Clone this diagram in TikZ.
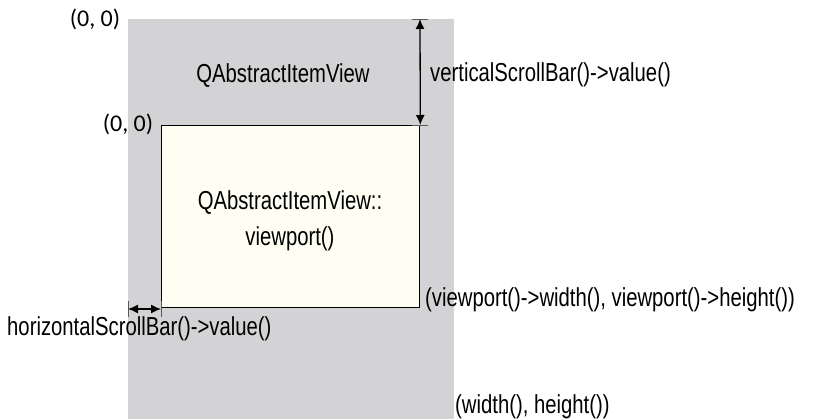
\documentclass[tikz,border=0pt]{standalone}
\usepackage{fontspec}
\setmainfont{Liberation Sans}[FakeStretch=0.78]
\newfontfamily\calfont{Carlito}[Numbers=Lining]
\usetikzlibrary{arrows.meta}
\definecolor{areagray}{HTML}{D3D3D5}
\definecolor{vpfill}{HTML}{FFFEF2}
\tikzset{
  lbl/.style={font=\fontsize{26}{30}\selectfont, inner sep=0pt},
  clbl/.style={font=\calfont\fontsize{24}{28}\selectfont, inner sep=0pt},
  dim/.style={line width=1.3pt, {Latex[length=10pt,width=9pt]}-{Latex[length=10pt,width=9pt]}},
  tick/.style={line width=0.9pt, draw=gray!70!black},
}
\begin{document}
\begin{tikzpicture}[x=1pt,y=-1pt]
\useasboundingbox (0,0) rectangle (817,419);
\fill[areagray] (128,19) rectangle (454,419);
\node[draw=black, line width=1.3pt, fill=vpfill, minimum width=258pt, minimum height=182pt, anchor=north west, inner sep=0pt] (vp) at (161,125) {};
\coordinate (topR) at (420,19);
\coordinate (vpTR) at (vp.north east);
\draw[tick] (412,19) -- (428,19);
\draw[tick] (412,125) -- (428,125);
\draw[dim] (topR) -- (vpTR);
\coordinate (leftB) at (128,309);
\coordinate (vpBL) at (161,309);
\draw[tick] (128,301) -- (128,317);
\draw[tick] (161,301) -- (161,317);
\draw[dim] (leftB) -- (vpBL);
\node[clbl] (o1) at (95,19) {(0, 0)};
\node[clbl] (o2) at (128,124) {(0, 0)};
\node[lbl] (qaiv) at (283,76) {QAbstractItemView};
\node[lbl, anchor=west] (vsb) at (430,75) {verticalScrollBar()->value()};
\node[lbl, align=center] (vpl) at (290,221) {QAbstractItemView::\\[6pt]viewport()};
\node[lbl, anchor=west] (vpwh) at (425,300) {(viewport()->width(), viewport()->height())};
\node[lbl, anchor=west] (hsb) at (7,329) {horizontalScrollBar()->value()};
\node[lbl, anchor=west] (wh) at (455,407) {(width(), height())};
\end{tikzpicture}
\end{document}
